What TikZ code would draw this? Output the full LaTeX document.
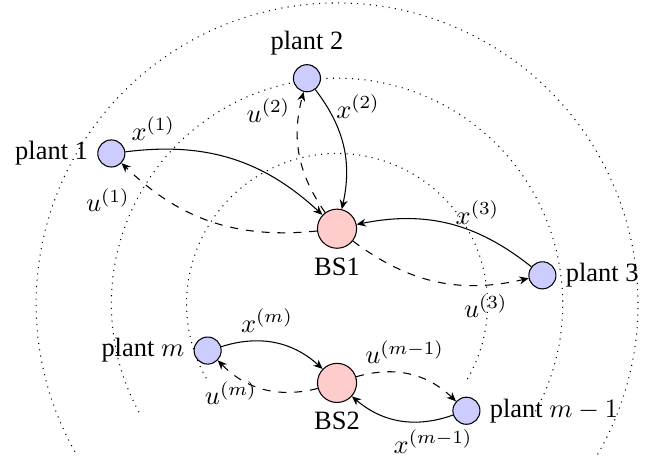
\documentclass[tikz,border=0pt]{standalone}
\usepackage{fontspec}
\setmainfont{Liberation Serif}
\usetikzlibrary{arrows.meta}

\begin{document}
\begin{tikzpicture}[>={Stealth[length=3.5pt,width=3pt]},
    plant/.style={circle,draw,fill=blue!20,minimum size=3.6mm,inner sep=0pt},
    bs/.style={circle,draw,fill=red!20,minimum size=5.2mm,inner sep=0pt}]
  \useasboundingbox (-4.48,-2.06) rectangle (4.28,4.04);
  \foreach \r in {2,3,4}
    \draw[dotted] (-30:\r) arc[start angle=-30,end angle=210,radius=\r];
  \node[bs,label=below:BS1] (bs1) at (0,1) {};
  \node[bs,label=below:BS2] (bs2) at (0,-1.05) {};
  \node[plant,label=left:plant 1] (p1) at (-3,2) {};
  \node[plant,label=above:plant 2] (p2) at (-0.4,3) {};
  \node[plant,label=right:plant 3] (p3) at (2.73,0.38) {};
  \node[plant,label=left:plant $m$] (pm) at (-1.72,-0.62) {};
  \node[plant,label=right:plant $m-1$] (pm1) at (1.72,-1.42) {};
  \draw[->] (p1) to[bend left=25] node[pos=0.12,above] {$x^{(1)}$} (bs1);
  \draw[->,dashed] (bs1) to[bend left=25] node[pos=0.9,below left] {$u^{(1)}$} (p1);
  \draw[->] (p2) to[bend left=25] node[pos=0.15,right] {$x^{(2)}$} (bs1);
  \draw[->,dashed] (bs1) to[bend left=25] node[pos=0.86,left] {$u^{(2)}$} (p2);
  \draw[->] (p3) to[bend right=25] node[pos=0.33,above] {$x^{(3)}$} (bs1);
  \draw[->,dashed] (bs1) to[bend right=25] node[pos=0.78,below] {$u^{(3)}$} (p3);
  \draw[->] (pm) to[bend left=30] node[pos=0.42,above] {$x^{(m)}$} (bs2);
  \draw[->,dashed] (bs2) to[bend left=30] node[pos=0.85,below] {$u^{(m)}$} (pm);
  \draw[->,dashed] (bs2) to[bend left=30] node[pos=0.45,above] {$u^{(m-1)}$} (pm1);
  \draw[->] (pm1) to[bend left=30] node[pos=0.18,below] {$x^{(m-1)}$} (bs2);
\end{tikzpicture}
\end{document}
